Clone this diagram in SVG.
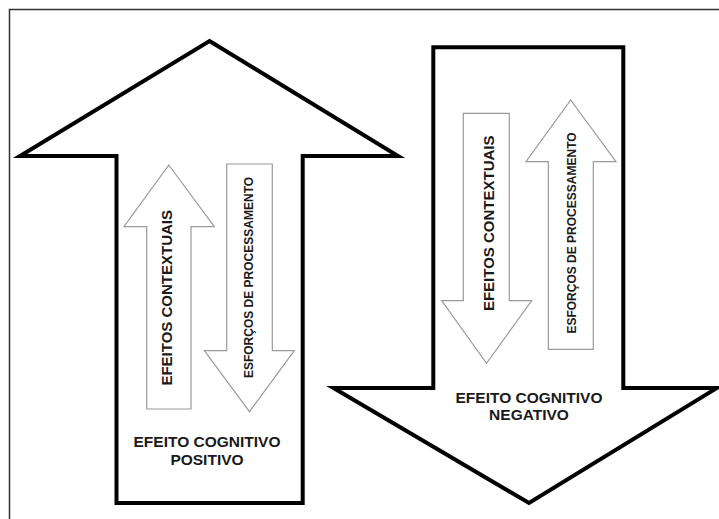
<svg xmlns="http://www.w3.org/2000/svg" width="719" height="519" viewBox="0 0 719 519">
<style>
.big{fill:#fff;stroke:#000;stroke-width:4;stroke-linejoin:miter}
.small{fill:#fff;stroke:#9a9a9a;stroke-width:1.2}
.lbl{font-family:"Liberation Sans",Arial,sans-serif;font-weight:bold;fill:#1a1a1a;text-anchor:middle}
.frame{stroke:#333;stroke-width:1.5;fill:none}
</style>
<rect width="719" height="519" fill="#fff"/>
<g id="frame"><path class="frame" d="M9.5 519 V9.5 H719"/></g>
<g id="connectors"></g>
<g id="positivo">
  <polygon class="big" points="209.5,41 398,156 302.7,156 302.7,503 116.5,503 116.5,156 20,156"/>
  <text class="lbl" x="207" y="446.7" font-size="15.5">EFEITO COGNITIVO</text>
  <text class="lbl" x="207" y="465" font-size="15.5">POSITIVO</text>
</g>
<g id="negativo">
  <polygon class="big" points="433.3,47.3 623.3,47.3 623.3,388 717,388 529,503 333.5,388 433.3,388"/>
  <text class="lbl" x="529" y="402.7" font-size="15.5">EFEITO COGNITIVO</text>
  <text class="lbl" x="529" y="420" font-size="15.5">NEGATIVO</text>
</g>
<g id="pos-efeitos">
  <polygon class="small" points="168.8,165 214.3,226.7 191,226.7 191,409 146.7,409 146.7,226.7 124,226.7"/>
  <text class="lbl" font-size="15" transform="translate(171.5,297.8) rotate(-90)">EFEITOS CONTEXTUAIS</text>
</g>
<g id="pos-esforcos">
  <polygon class="small" points="226.7,164 272.3,164 272.3,350.7 294.3,350.7 249.5,411.7 204.3,350.7 226.7,350.7"/>
  <text class="lbl" font-size="12" transform="translate(252.5,277.5) rotate(-90)">ESFORÇOS DE PROCESSAMENTO</text>
</g>
<g id="neg-efeitos">
  <polygon class="small" points="463.3,113.3 509.3,113.3 509.3,300.7 531.7,300.7 486.5,363.3 441.7,300.7 463.3,300.7"/>
  <text class="lbl" font-size="15" transform="translate(494,223.3) rotate(-90)">EFEITOS CONTEXTUAIS</text>
</g>
<g id="neg-esforcos">
  <polygon class="small" points="570.7,100 616,161.7 593.3,161.7 593.3,349.3 548.3,349.3 548.3,161.7 526,161.7"/>
  <text class="lbl" font-size="12" transform="translate(576,233) rotate(-90)">ESFORÇOS DE PROCESSAMENTO</text>
</g>
</svg>
